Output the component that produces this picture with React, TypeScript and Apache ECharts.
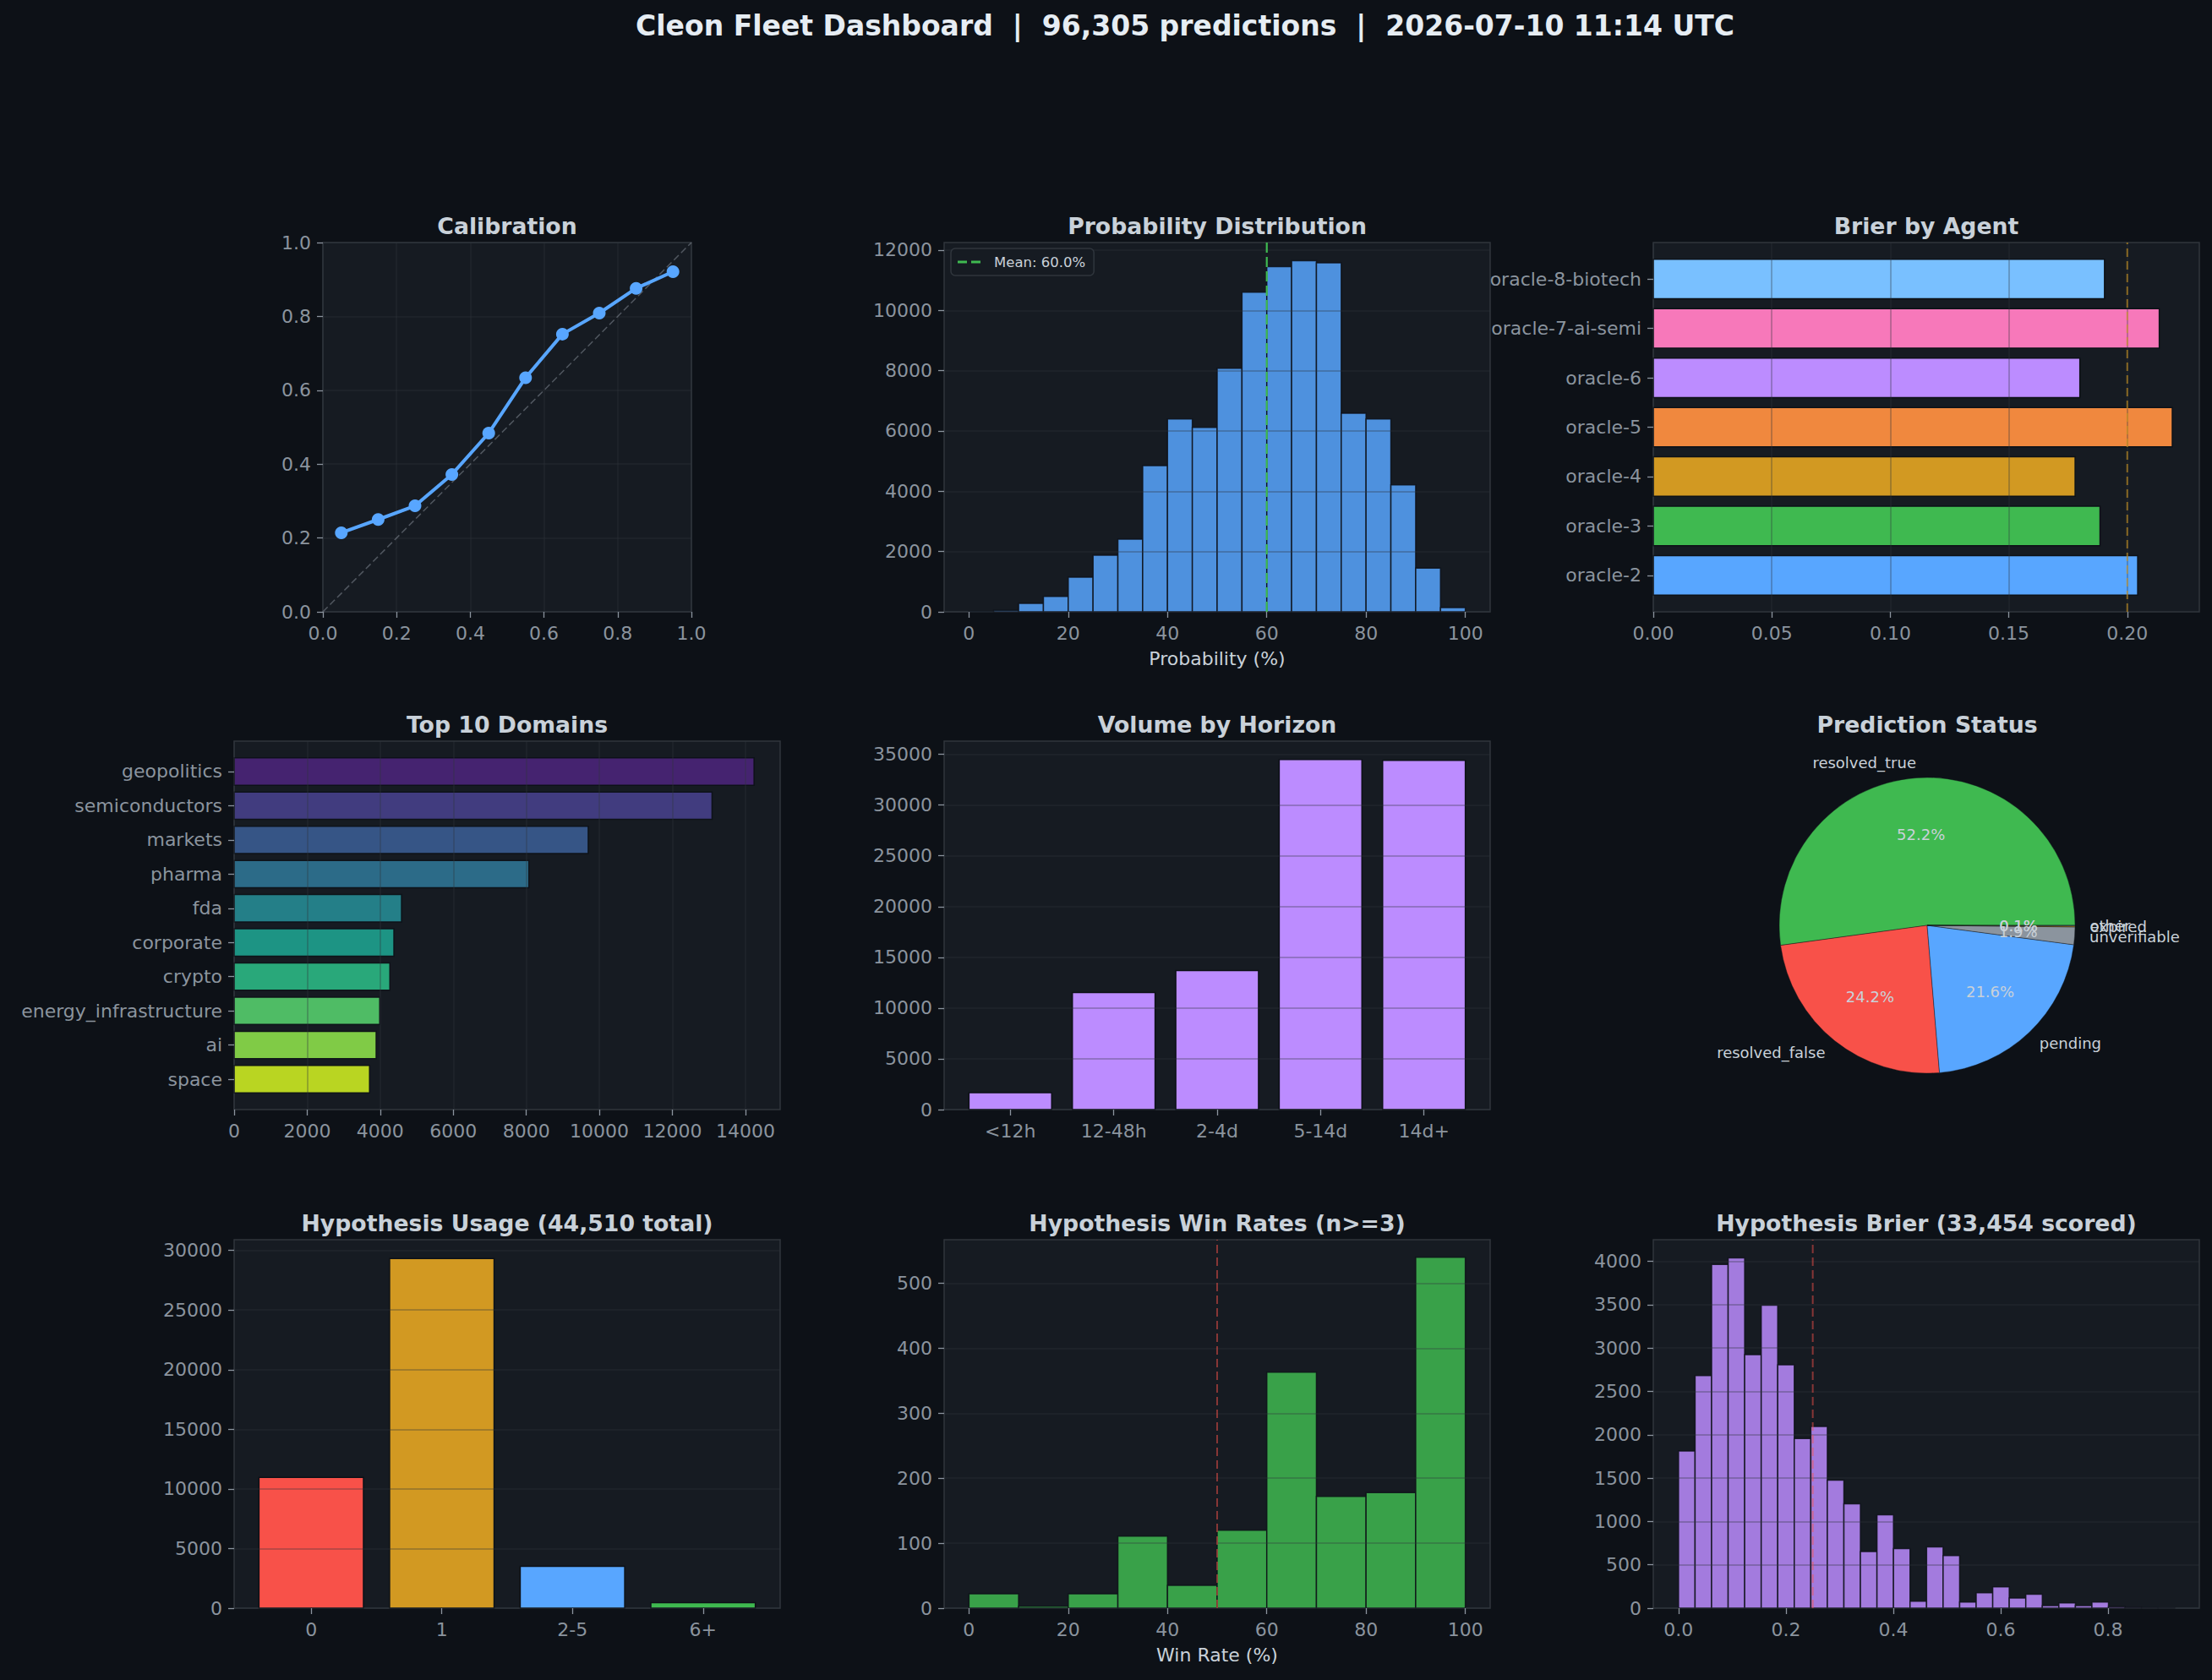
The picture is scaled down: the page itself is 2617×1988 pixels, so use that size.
import React, { useEffect, useRef } from 'react';
import * as echarts from 'echarts';

// ---------- page & palette ----------
const FIG_W = 2617;
const FIG_H = 1988;
const FONT = 'DejaVu Sans';
const BG = '#0d1117';
const PANEL = '#161b22';
const SPINE = '#30363d';
const TICK = '#8b949e';
const TEXT = '#c9d1d9';
const GRIDLINE = 'rgba(48,54,61,0.4)';
const EDGE = '#0d1117';

const SUPTITLE = 'Cleon Fleet Dashboard  |  96,305 predictions  |  2026-07-10 11:14 UTC';

// ---------- Calibration ----------
const CAL_BINS = [0.05, 0.15, 0.25, 0.35, 0.45, 0.55, 0.65, 0.75, 0.85, 0.95];
const CAL_OBSERVED = [0.214, 0.25, 0.287, 0.372, 0.484, 0.634, 0.752, 0.809, 0.876, 0.921];
const CAL_DIAGONAL = [[0, 0], [1, 1]];
const CAL_TICKS = [0, 0.2, 0.4, 0.6, 0.8, 1.0];

// ---------- Probability distribution ----------
const PROB_BIN_STARTS = [0, 5, 10, 15, 20, 25, 30, 35, 40, 45, 50, 55, 60, 65, 70, 75, 80, 85, 90, 95];
const PROB_BIN_WIDTH = 5;
const PROB_COUNTS = [10, 50, 280, 510, 1150, 1880, 2410, 4850, 6400, 6120, 8080, 10600, 11450, 11650, 11580, 6590, 6400, 4210, 1450, 140];
const PROB_MEAN = 60.0;
const PROB_X_TICKS = [0, 20, 40, 60, 80, 100];
const PROB_Y_TICKS = [0, 2000, 4000, 6000, 8000, 10000, 12000];

// ---------- Brier by agent ----------
const AGENTS = ['oracle-2', 'oracle-3', 'oracle-4', 'oracle-5', 'oracle-6', 'oracle-7-ai-semi', 'oracle-8-biotech'];
const AGENT_BRIER = [0.2044, 0.1885, 0.178, 0.219, 0.18, 0.2135, 0.1904];
const AGENT_COLORS = ['#58a6ff', '#3fb950', '#d29922', '#f0883e', '#bc8cff', '#f778ba', '#79c0ff'];
const BRIER_TARGET = 0.2;
const AGENT_X_TICKS = [0, 0.05, 0.1, 0.15, 0.2];

// ---------- Top 10 domains ----------
const DOMAINS = ['geopolitics', 'semiconductors', 'markets', 'pharma', 'fda', 'corporate', 'crypto', 'energy_infrastructure', 'ai', 'space'];
const DOMAIN_COUNTS = [14236, 13085, 9695, 8070, 4584, 4375, 4264, 3986, 3889, 3708];
const DOMAIN_COLORS = ['#482475', '#433e85', '#38598c', '#2d708e', '#25858e', '#1e9b8a', '#2ab07f', '#52c569', '#86d549', '#c2df23'];
const DOMAIN_X_TICKS = [0, 2000, 4000, 6000, 8000, 10000, 12000, 14000];

// ---------- Volume by horizon ----------
const HORIZONS = ['<12h', '12-48h', '2-4d', '5-14d', '14d+'];
const HORIZON_COUNTS = [1664, 11536, 13700, 34498, 34415];
const HORIZON_Y_TICKS = [0, 5000, 10000, 15000, 20000, 25000, 30000, 35000];

// ---------- Prediction status ----------
const STATUSES = ['resolved_true', 'resolved_false', 'pending', 'unverifiable', 'expired', 'other'];
const STATUS_COUNTS = [50230, 23280, 20780, 1850, 90, 75];
const STATUS_COLORS = ['#3fb950', '#f85149', '#58a6ff', '#8b949e', '#d29922', '#6e7681'];

// ---------- Hypothesis usage ----------
const USAGE_BUCKETS = ['0', '1', '2-5', '6+'];
const USAGE_COUNTS = [10968, 29324, 3505, 454];
const USAGE_COLORS = ['#f85149', '#d29922', '#58a6ff', '#3fb950'];
const USAGE_Y_TICKS = [0, 5000, 10000, 15000, 20000, 25000, 30000];

// ---------- Hypothesis win rates ----------
const WIN_BIN_STARTS = [0, 10, 20, 30, 40, 50, 60, 70, 80, 90];
const WIN_BIN_WIDTH = 10;
const WIN_COUNTS = [22, 3, 22, 111, 35, 120, 363, 172, 178, 540];
const WIN_BREAKEVEN = 50;
const WIN_X_TICKS = [0, 20, 40, 60, 80, 100];
const WIN_Y_TICKS = [0, 100, 200, 300, 400, 500];

// ---------- Hypothesis Brier ----------
const HB_BIN_WIDTH = 0.0308;
const HB_COUNTS = [1814, 2683, 3964, 4041, 2924, 3494, 2807, 1958, 2096, 1476, 1204, 654, 1076, 687, 80, 707, 607, 70, 178, 245, 117, 161, 30, 60, 30, 70, 17, 5, 3, 2];
const HB_THRESHOLD = 0.25;
const HB_X_TICKS = [0, 0.2, 0.4, 0.6, 0.8];
const HB_Y_TICKS = [0, 500, 1000, 1500, 2000, 2500, 3000, 3500, 4000];

// ---------- panel geometry ----------
const PANELS = [
  { left: 382, top: 287, width: 436, height: 437, title: 'Calibration' },
  { left: 1117, top: 287, width: 646, height: 437, title: 'Probability Distribution' },
  { left: 1956, top: 287, width: 646, height: 437, title: 'Brier by Agent' },
  { left: 277, top: 877, width: 646, height: 436, title: 'Top 10 Domains' },
  { left: 1117, top: 877, width: 646, height: 436, title: 'Volume by Horizon' },
  { left: 277, top: 1467, width: 646, height: 436, title: 'Hypothesis Usage (44,510 total)' },
  { left: 1117, top: 1467, width: 646, height: 436, title: 'Hypothesis Win Rates (n>=3)' },
  { left: 1956, top: 1467, width: 646, height: 436, title: 'Hypothesis Brier (33,454 scored)' },
];
const PIE = { cx: 2280, cy: 1095, r: 175, title: 'Prediction Status' };

const int = (v: number) => String(Math.round(v));

function axis(gridIndex: number, min: number, max: number, ticks: number[], formatter: (v: number) => string, extra: any = {}) {
  return {
    type: 'value',
    gridIndex,
    min,
    max,
    z: 3,
    axisLine: { show: false, onZero: false },
    axisTick: { show: true, customValues: ticks, length: 7, lineStyle: { color: TICK, width: 1.3 } },
    axisLabel: { show: true, customValues: ticks, formatter, color: TICK, fontSize: 22, fontFamily: FONT, margin: 14 },
    splitLine: { show: false },
    ...extra,
  };
}

const gridLines = (interval: number) => ({
  interval,
  splitLine: { show: true, lineStyle: { color: GRIDLINE, width: 1.5 } },
});

// Rectangles given as [x0, x1, y0, y1] in data space, mapped through the panel's axes.
function rectSeries(axisIndex: number, items: any[], opacity: number) {
  return {
    type: 'custom',
    xAxisIndex: axisIndex,
    yAxisIndex: axisIndex,
    encode: { x: [0, 1], y: [2, 3] },
    z: 2,
    silent: true,
    renderItem: (_params: any, api: any) => {
      const a = api.coord([api.value(0), api.value(2)]);
      const b = api.coord([api.value(1), api.value(3)]);
      return {
        type: 'rect',
        shape: {
          x: Math.min(a[0], b[0]),
          y: Math.min(a[1], b[1]),
          width: Math.abs(b[0] - a[0]),
          height: Math.abs(b[1] - a[1]),
        },
        style: { fill: api.visual('color'), stroke: EDGE, lineWidth: 1.5, opacity },
      };
    },
    data: items,
  };
}

const vLine = (axisIndex: number, x: number, y0: number, y1: number, color: string, width: number, dash: number[], name?: string) => ({
  type: 'line',
  name,
  xAxisIndex: axisIndex,
  yAxisIndex: axisIndex,
  symbol: 'none',
  silent: true,
  z: 4,
  lineStyle: { color, width, type: dash },
  itemStyle: { color },
  data: [[x, y0], [x, y1]],
});

function buildOption() {
  const PROB_Y_MAX = 12250;
  const AGENT_Y = [-0.74, 6.74];
  const DOMAIN_Y = [-0.89, 9.89];
  const HORIZON_Y_MAX = 36300;
  const USAGE_Y_MAX = 30900;
  const WIN_Y_MAX = 567;
  const HB_Y_MAX = 4250;
  const STATUS_TOTAL = STATUS_COUNTS.reduce((a, b) => a + b, 0);
  const meanLabel = `Mean: ${PROB_MEAN.toFixed(1)}%`;

  const grids = PANELS.map((p) => ({
    left: p.left,
    top: p.top,
    width: p.width,
    height: p.height,
    show: true,
    backgroundColor: PANEL,
    borderColor: SPINE,
    borderWidth: 1.5,
    containLabel: false,
    outerBoundsMode: 'none',
  }));

  const xAxis = [
    axis(0, 0, 1, CAL_TICKS, (v) => v.toFixed(1), { ...gridLines(0.2), z: 1 }),
    axis(1, -5, 105, PROB_X_TICKS, int, {
      name: 'Probability (%)',
      nameLocation: 'middle',
      nameGap: 44,
      nameTextStyle: { color: TEXT, fontSize: 22, fontFamily: FONT },
    }),
    axis(2, 0, 0.2304, AGENT_X_TICKS, (v) => v.toFixed(2), gridLines(0.05)),
    axis(3, 0, 14950, DOMAIN_X_TICKS, int, gridLines(2000)),
    axis(4, -0.64, 4.64, [0, 1, 2, 3, 4], (v) => HORIZONS[Math.round(v)] ?? ''),
    axis(5, -0.59, 3.59, [0, 1, 2, 3], (v) => USAGE_BUCKETS[Math.round(v)] ?? ''),
    axis(6, -5, 105, WIN_X_TICKS, int, {
      name: 'Win Rate (%)',
      nameLocation: 'middle',
      nameGap: 44,
      nameTextStyle: { color: TEXT, fontSize: 22, fontFamily: FONT },
    }),
    axis(7, -0.047, 0.97, HB_X_TICKS, (v) => v.toFixed(1)),
  ];

  const yAxis = [
    axis(0, 0, 1, CAL_TICKS, (v) => v.toFixed(1), { ...gridLines(0.2), z: 1 }),
    axis(1, 0, PROB_Y_MAX, PROB_Y_TICKS, int, gridLines(2000)),
    axis(2, AGENT_Y[0], AGENT_Y[1], [0, 1, 2, 3, 4, 5, 6], (v) => AGENTS[Math.round(v)] ?? ''),
    axis(3, DOMAIN_Y[0], DOMAIN_Y[1], [0, 1, 2, 3, 4, 5, 6, 7, 8, 9], (v) => DOMAINS[Math.round(v)] ?? '', { inverse: true }),
    axis(4, 0, HORIZON_Y_MAX, HORIZON_Y_TICKS, int, gridLines(5000)),
    axis(5, 0, USAGE_Y_MAX, USAGE_Y_TICKS, int, gridLines(5000)),
    axis(6, 0, WIN_Y_MAX, WIN_Y_TICKS, int, gridLines(100)),
    axis(7, 0, HB_Y_MAX, HB_Y_TICKS, int, gridLines(500)),
  ];

  const series: any[] = [
    // Calibration
    {
      type: 'line',
      xAxisIndex: 0,
      yAxisIndex: 0,
      symbol: 'none',
      silent: true,
      z: 1,
      lineStyle: { color: 'rgba(139,148,158,0.5)', width: 1.5, type: [8, 4] },
      data: CAL_DIAGONAL,
    },
    {
      type: 'line',
      xAxisIndex: 0,
      yAxisIndex: 0,
      symbol: 'circle',
      symbolSize: 15,
      silent: true,
      z: 3,
      lineStyle: { color: '#58a6ff', width: 4 },
      itemStyle: { color: '#58a6ff' },
      data: CAL_BINS.map((x, i) => [x, CAL_OBSERVED[i]]),
    },
    // Probability distribution
    rectSeries(
      1,
      PROB_BIN_STARTS.map((s, i) => ({ value: [s, s + PROB_BIN_WIDTH, 0, PROB_COUNTS[i]], itemStyle: { color: '#58a6ff' } })),
      0.85,
    ),
    vLine(1, PROB_MEAN, 0, PROB_Y_MAX, '#3fb950', 2.2, [12, 5], meanLabel),
    // Brier by agent
    rectSeries(
      2,
      AGENTS.map((_, i) => ({ value: [0, AGENT_BRIER[i], i - 0.4, i + 0.4], itemStyle: { color: AGENT_COLORS[i] } })),
      1,
    ),
    vLine(2, BRIER_TARGET, AGENT_Y[0], AGENT_Y[1], 'rgba(210,153,34,0.6)', 2, [10, 5]),
    // Top 10 domains
    rectSeries(
      3,
      DOMAINS.map((_, i) => ({ value: [0, DOMAIN_COUNTS[i], i - 0.4, i + 0.4], itemStyle: { color: DOMAIN_COLORS[i] } })),
      0.95,
    ),
    // Volume by horizon
    rectSeries(
      4,
      HORIZONS.map((_, i) => ({ value: [i - 0.4, i + 0.4, 0, HORIZON_COUNTS[i]], itemStyle: { color: '#bc8cff' } })),
      1,
    ),
    // Hypothesis usage
    rectSeries(
      5,
      USAGE_BUCKETS.map((_, i) => ({ value: [i - 0.4, i + 0.4, 0, USAGE_COUNTS[i]], itemStyle: { color: USAGE_COLORS[i] } })),
      1,
    ),
    // Hypothesis win rates
    rectSeries(
      6,
      WIN_BIN_STARTS.map((s, i) => ({ value: [s, s + WIN_BIN_WIDTH, 0, WIN_COUNTS[i]], itemStyle: { color: '#3fb950' } })),
      0.85,
    ),
    vLine(6, WIN_BREAKEVEN, 0, WIN_Y_MAX, 'rgba(248,81,73,0.5)', 2, [10, 5]),
    // Hypothesis Brier histogram
    rectSeries(
      7,
      HB_COUNTS.map((c, i) => ({ value: [i * HB_BIN_WIDTH, (i + 1) * HB_BIN_WIDTH, 0, c], itemStyle: { color: '#bc8cff' } })),
      0.85,
    ),
    vLine(7, HB_THRESHOLD, 0, HB_Y_MAX, 'rgba(248,81,73,0.5)', 2, [10, 5]),
    // Prediction status pie: slices with outer names
    {
      type: 'pie',
      center: [PIE.cx, PIE.cy],
      radius: [0, PIE.r],
      startAngle: 0,
      clockwise: false,
      avoidLabelOverlap: false,
      labelLayout: { hideOverlap: false },
      minShowLabelAngle: 0,
      silent: true,
      itemStyle: { borderColor: 'rgba(13,17,23,0.5)', borderWidth: 0.8 },
      label: { show: true, position: 'outside', color: TEXT, fontSize: 18, fontFamily: FONT, distanceToLabelLine: 0 },
      labelLine: { show: false, length: PIE.r * 0.1, length2: 0 },
      emphasis: { disabled: true },
      data: STATUSES.map((s, i) => ({ name: s, value: STATUS_COUNTS[i], itemStyle: { color: STATUS_COLORS[i] } })),
    },
    // Prediction status pie: percentage labels
    {
      type: 'pie',
      center: [PIE.cx, PIE.cy],
      radius: [PIE.r * 0.2, PIE.r],
      startAngle: 0,
      clockwise: false,
      avoidLabelOverlap: false,
      labelLayout: { hideOverlap: false },
      minShowLabelAngle: 0,
      silent: true,
      itemStyle: { color: 'rgba(0,0,0,0)' },
      label: {
        show: true,
        position: 'inside',
        formatter: (p: any) => `${((p.value / STATUS_TOTAL) * 100).toFixed(1)}%`,
        color: TEXT,
        fontSize: 18,
        fontFamily: FONT,
      },
      labelLine: { show: false },
      emphasis: { disabled: true },
      data: STATUSES.map((s, i) => ({ name: s, value: STATUS_COUNTS[i] })),
    },
  ];

  const titles = [
    ...PANELS.map((p) => ({ text: p.title, x: p.left + p.width / 2, y: p.top - 20 })),
    { text: PIE.title, x: PIE.cx, y: 857 },
  ].map((t) => ({
    type: 'text',
    x: t.x,
    y: t.y,
    silent: true,
    style: {
      text: t.text,
      fill: TEXT,
      font: `bold 26.7px "${FONT}"`,
      align: 'center',
      verticalAlign: 'middle',
      textAlign: 'center',
      textVerticalAlign: 'middle',
    },
  }));

  return {
    animation: false,
    backgroundColor: BG,
    textStyle: { fontFamily: FONT },
    grid: grids,
    xAxis,
    yAxis,
    series,
    legend: [
      {
        data: [{ name: meanLabel, icon: 'path://M0,0H11V3H0Z M16,0H27V3H16Z' }],
        left: 1125,
        top: 294,
        orient: 'vertical',
        selectedMode: false,
        itemWidth: 27,
        itemHeight: 3,
        padding: [7, 10, 7, 8],
        backgroundColor: PANEL,
        borderColor: SPINE,
        borderWidth: 1.5,
        borderRadius: 5,
        textStyle: { color: TEXT, fontSize: 16.5, fontFamily: FONT, padding: [0, 0, 0, 11], lineHeight: 18 },
      },
    ],
    graphic: [
      {
        type: 'text',
        x: 1402,
        y: 30,
        silent: true,
        style: {
          text: SUPTITLE,
          fill: '#e6edf3',
          font: `bold 33px "${FONT}"`,
          align: 'center',
          verticalAlign: 'middle',
          textAlign: 'center',
          textVerticalAlign: 'middle',
        },
      },
      ...titles,
    ],
  };
}

export default function App() {
  const ref = useRef<HTMLDivElement>(null);
  useEffect(() => {
    document.body.style.margin = '0';
    document.body.style.background = BG;
    const chart = echarts.init(ref.current as HTMLDivElement, null, { renderer: 'svg', width: FIG_W, height: FIG_H });
    chart.setOption(buildOption() as any);
    return () => chart.dispose();
  }, []);
  return <div ref={ref} style={{ width: FIG_W, height: FIG_H, background: BG }} />;
}
